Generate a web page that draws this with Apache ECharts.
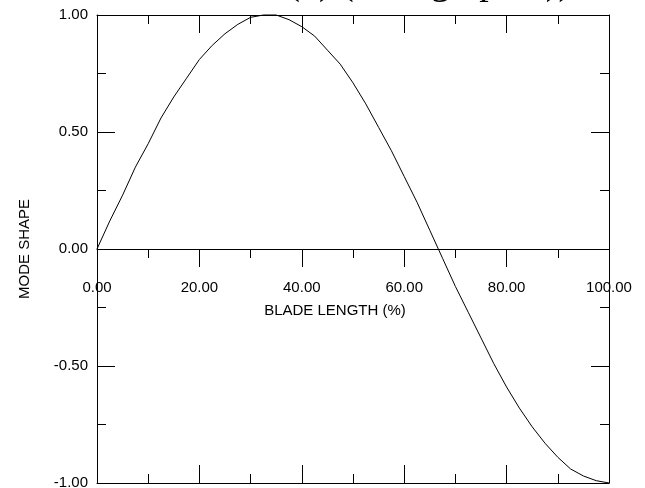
<!DOCTYPE html>
<html><head><meta charset="utf-8">
<script src="https://cdn.jsdelivr.net/npm/echarts@6/dist/echarts.min.js"></script>
<style>html,body{margin:0;padding:0;background:#fff}#c{width:645px;height:488px}</style>
</head><body><div id="c"></div>
<script>
// Blade length positions (%) and mode shape values
const bladeLength = [0,2.5,5,7.5,10,12.5,15,17.5,20,22.5,25,27.5,30,32.5,35,37.5,40,42.5,45,47.5,50,52.5,55,57.5,60,62.5,65,67.5,70,72.5,75,77.5,80,82.5,85,87.5,90,92.5,95,97.5,100];
const modeShape = [0,0.12,0.23,0.35,0.45,0.56,0.65,0.73,0.81,0.87,0.92,0.96,0.99,1.00,1.00,0.98,0.95,0.91,0.85,0.79,0.71,0.62,0.52,0.42,0.31,0.20,0.08,-0.04,-0.16,-0.27,-0.38,-0.49,-0.59,-0.68,-0.76,-0.83,-0.89,-0.94,-0.97,-0.99,-1.00];
const xRange = [0, 100];
const xInterval = 20;
const yRange = [-1, 1];
const yInterval = 0.5;
const titleText = 'FIRST MODE W(x) (This graph 1))';
const xName = 'BLADE LENGTH (%)';
const yName = 'MODE SHAPE';

const chart = echarts.init(document.getElementById('c'), null, {renderer: 'canvas'});
const font = '"Liberation Sans", Arial, sans-serif';
const lineCol = '#000';
// full plot box, and an upper box whose bottom edge is the zero line
const gridFull = {left: 97, right: 36, top: 15, bottom: 5, outerBoundsMode: 'none', containLabel: false};
const gridUpper = {left: 97, right: 36, top: 15, bottom: 239, outerBoundsMode: 'none', containLabel: false};

function xAx(gridIndex, position, opts) {
  return Object.assign({
    type: 'value', gridIndex, position, min: xRange[0], max: xRange[1], interval: xInterval,
    axisLine: {show: true, onZero: false, lineStyle: {color: lineCol, width: 1}},
    axisTick: {show: true, inside: true, length: 18, lineStyle: {color: lineCol, width: 1}},
    minorTick: {show: true, splitNumber: 2, length: 9, lineStyle: {color: lineCol, width: 1}},
    axisLabel: {show: false},
    splitLine: {show: false}, minorSplitLine: {show: false}
  }, opts || {});
}
function yAx(gridIndex, position, opts) {
  return Object.assign({
    type: 'value', gridIndex, position, min: yRange[0], max: yRange[1], interval: yInterval,
    axisLine: {show: true, onZero: false, lineStyle: {color: lineCol, width: 1}},
    axisTick: {show: true, inside: true, length: 18, lineStyle: {color: lineCol, width: 1}},
    minorTick: {show: true, splitNumber: 2, length: 9, lineStyle: {color: lineCol, width: 1}},
    axisLabel: {show: false},
    splitLine: {show: false}, minorSplitLine: {show: false}
  }, opts || {});
}

const option = {
  backgroundColor: '#fff',
  animation: false,
  grid: [gridFull, gridUpper],
  xAxis: [
    xAx(0, 'bottom'),
    xAx(0, 'top'),
    xAx(1, 'bottom', {
      axisTick: {show: true, inside: false, length: 18, lineStyle: {color: lineCol, width: 1}},
      axisLabel: {show: true, margin: 31, fontSize: 15, color: '#000', fontFamily: font,
        showMinLabel: true, showMaxLabel: true,
        formatter: v => v.toFixed(2)}
    })
  ],
  yAxis: [
    yAx(0, 'left', {
      axisLabel: {show: true, margin: 9, fontSize: 15, color: '#000', fontFamily: font,
        showMinLabel: true, showMaxLabel: true,
        formatter: v => v.toFixed(2)}
    }),
    yAx(0, 'right'),
    {type: 'value', gridIndex: 1, min: 0, max: 1, show: false}
  ],
  graphic: [
    {type: 'text', x: 17, y: 3, silent: true,
      style: {text: titleText, font: '38px "Liberation Serif", "Times New Roman", serif', fill: '#000',
        textAlign: 'left', textVerticalAlign: 'bottom', align: 'left', verticalAlign: 'bottom'}},
    {type: 'text', x: 335, y: 311, silent: true,
      style: {text: xName, font: '15px ' + font, fill: '#000',
        textAlign: 'center', textVerticalAlign: 'middle', align: 'center', verticalAlign: 'middle'}},
    {type: 'text', x: 25, y: 249, rotation: Math.PI / 2, silent: true,
      style: {text: yName, font: '15px ' + font, fill: '#000',
        textAlign: 'center', textVerticalAlign: 'middle', align: 'center', verticalAlign: 'middle'}}
  ],
  series: [{
    type: 'line', xAxisIndex: 0, yAxisIndex: 0,
    data: bladeLength.map((x, i) => [x, modeShape[i]]),
    showSymbol: false, symbol: 'none', smooth: false, clip: false,
    lineStyle: {color: '#000', width: 1}
  }]
};
chart.setOption(option);
</script>
</body></html>
